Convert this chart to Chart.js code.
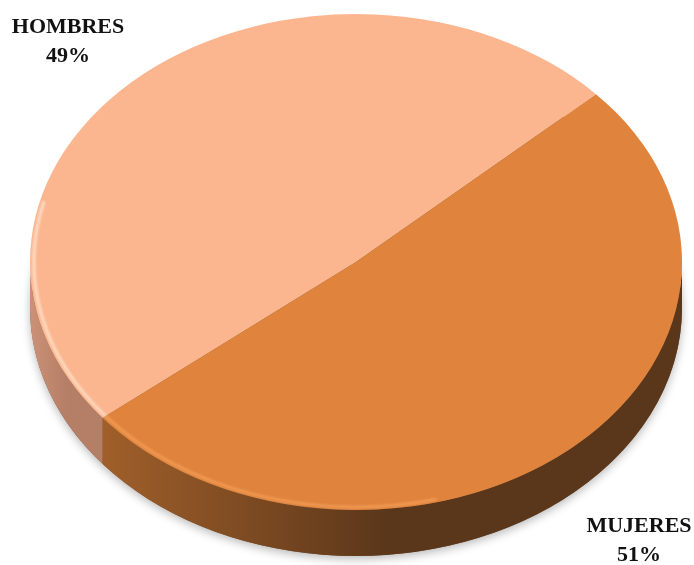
<!DOCTYPE html>
<html>
<head>
<meta charset="utf-8">
<script src="https://cdn.jsdelivr.net/npm/chart.js@4"></script>
<style>
  html, body { margin: 0; padding: 0; background: #fff; }
  #wrap { width: 694px; height: 565px; }
</style>
</head>
<body>
<div id="wrap"><canvas id="pie"></canvas></div>
<script>
// data
const categories = ['HOMBRES', 'MUJERES'];
const percents = [49, 51];
const topColors = ['#FBB68F', '#E0843D'];
const sideStops = [['#CB9278', '#B57E66'], ['#A05F2A', '#5A361A']];
const rimColors = ['rgba(255,230,210,0.75)', 'rgba(248,165,95,0.7)'];

const stretchX = 326 / 248; // pie is an ellipse, wider than tall
const depth = 46;

function visibleRanges(s, e, from, to) {
  // parts of the rim between canvas angles from..to
  let out = [];
  for (let k of [-2 * Math.PI, 0, 2 * Math.PI]) {
    let lo = Math.max(s, k + from), hi = Math.min(e, k + to);
    if (hi > lo) out.push([lo, hi]);
  }
  return out;
}

const pie3d = {
  id: 'pie3d',
  beforeDatasetsDraw(chart) {
    const ctx = chart.ctx;
    const arcs = chart.getDatasetMeta(0).data;
    const cx = arcs[0].x, cy = arcs[0].y;
    ctx.save();
    ctx.translate(cx, cy);
    ctx.scale(stretchX, 1);
    ctx.translate(-cx, -cy);

    // shadow under the whole disc
    ctx.save();
    ctx.shadowColor = 'rgba(0,0,0,0.28)';
    ctx.shadowBlur = 10;
    ctx.shadowOffsetY = 3;
    ctx.fillStyle = '#7a5a40';
    ctx.beginPath();
    ctx.arc(cx, cy + depth, arcs[0].outerRadius, 0, Math.PI * 2);
    ctx.fill();
    ctx.restore();

    arcs.forEach((arc, i) => {
      const p = arc.getProps(['x', 'y', 'startAngle', 'endAngle', 'outerRadius']);
      visibleRanges(p.startAngle, p.endAngle, 0, Math.PI).forEach(([a, b]) => {
        let x1 = p.x + p.outerRadius * Math.cos(b);
        let x2 = p.x + p.outerRadius * Math.cos(a);
        let g = ctx.createLinearGradient(Math.min(x1, x2), 0, Math.min(x1, x2) + Math.abs(x2 - x1) * 0.5, 0);
        g.addColorStop(0, sideStops[i][0]);
        g.addColorStop(1, sideStops[i][1]);
        ctx.fillStyle = g;
        ctx.beginPath();
        ctx.arc(p.x, p.y, p.outerRadius, a, b);
        ctx.arc(p.x, p.y + depth, p.outerRadius, b, a, true);
        ctx.closePath();
        ctx.fill();
      });
    });
  },
  afterDatasetsDraw(chart) {
    const ctx = chart.ctx;
    const arcs = chart.getDatasetMeta(0).data;
    // soft bevel along the lower-left rim
    ctx.save();
    ctx.filter = 'blur(1px)';
    arcs.forEach((arc, i) => {
      const p = arc.getProps(['x', 'y', 'startAngle', 'endAngle', 'outerRadius']);
      visibleRanges(p.startAngle, p.endAngle, Math.PI * 0.42, Math.PI * 1.08).forEach(([a, b]) => {
        ctx.strokeStyle = rimColors[i];
        ctx.lineWidth = 2.5;
        ctx.beginPath();
        ctx.arc(p.x, p.y, p.outerRadius - 3, a, b);
        ctx.stroke();
      });
    });
    ctx.restore();
    ctx.restore();
  },
  afterDraw(chart) {
    const ctx = chart.ctx;
    const W = chart.width, H = chart.height;
    const spots = [[68, 33], [W - 55, H - 33]];
    ctx.save();
    ctx.font = 'bold 22px "Liberation Serif"';
    ctx.fillStyle = '#111';
    ctx.textAlign = 'center';
    categories.forEach((c, i) => {
      ctx.fillText(c, spots[i][0], spots[i][1]);
      ctx.fillText(percents[i] + '%', spots[i][0], spots[i][1] + 29);
    });
    ctx.restore();
  }
};

new Chart(document.getElementById('pie'), {
  type: 'pie',
  data: {
    labels: categories,
    datasets: [{
      data: percents,
      backgroundColor: topColors,
      borderWidth: 0
    }]
  },
  options: {
    responsive: true,
    maintainAspectRatio: false,
    animation: false,
    rotation: 231,
    layout: { padding: { left: 108, right: 90, top: 14, bottom: 55 } },
    plugins: {
      legend: { display: false },
      tooltip: { enabled: false }
    }
  },
  plugins: [pie3d]
});
</script>
</body>
</html>
